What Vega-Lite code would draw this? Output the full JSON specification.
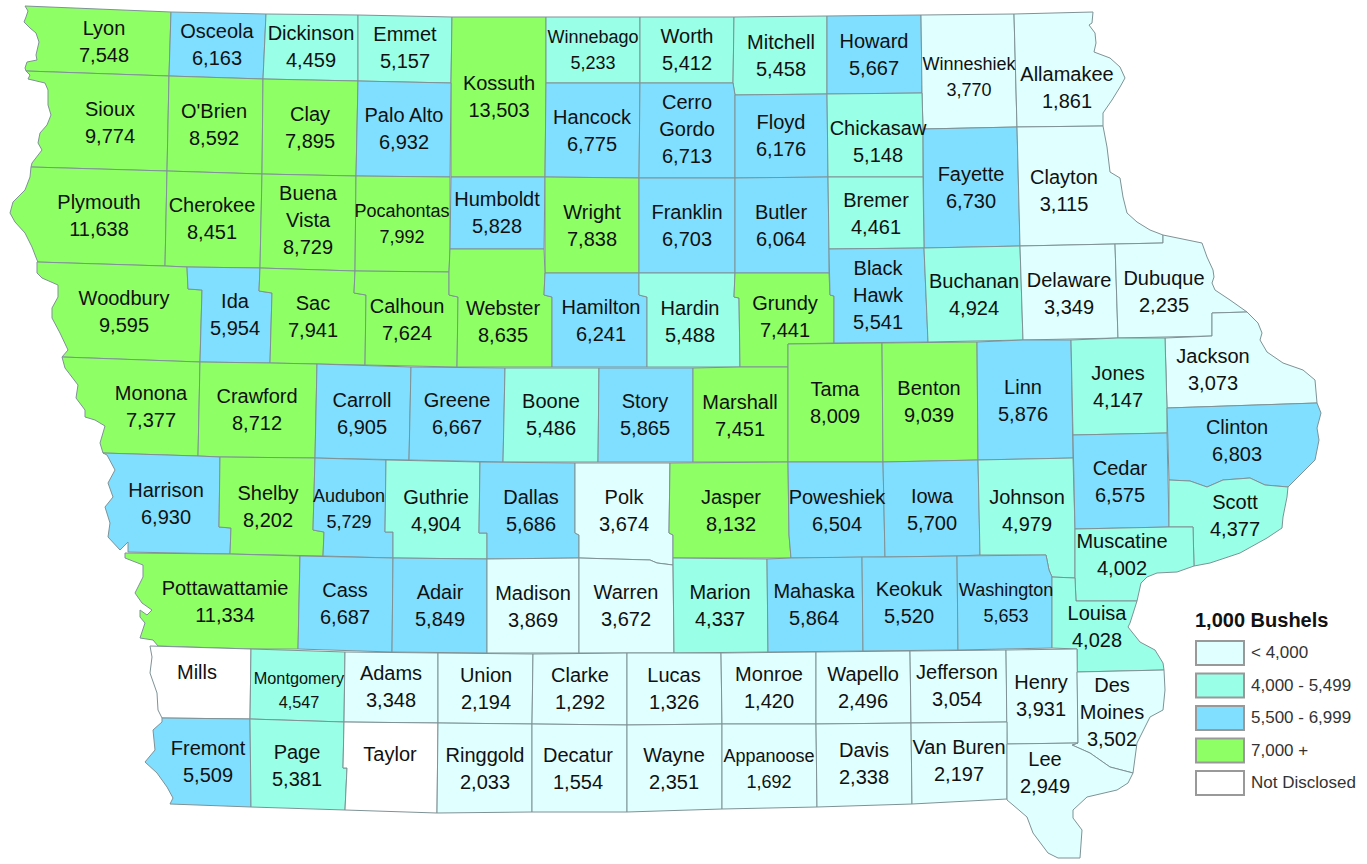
{"$schema":"https://vega.github.io/schema/vega-lite/v6.json","width":1367,"height":864,"autosize":"none","padding":0,"background":"white","config":{"view":{"stroke":null}},"projection":{"type":"identity","scale":1,"translate":[0,0]},
"data":{"values":[
{"type":"Feature","name":"Lyon","value":7548,"class":"7,000 +","lx":104,"ly":42,"geometry":{"type":"Polygon","coordinates":[[[25,6],[171,12],[169,76],[26,71],[25,68],[27,62],[37,60],[36,55],[39,42],[36,33],[30,28],[24,22],[26,17],[28,11],[25,6]]]}},
{"type":"Feature","name":"Osceola","value":6163,"class":"5,500 - 6,999","lx":217,"ly":45,"geometry":{"type":"Polygon","coordinates":[[[171,12],[266,14],[263,79],[169,76],[171,12]]]}},
{"type":"Feature","name":"Dickinson","value":4459,"class":"4,000 - 5,499","lx":311,"ly":47,"geometry":{"type":"Polygon","coordinates":[[[266,14],[358,15],[358,81],[263,79],[266,14]]]}},
{"type":"Feature","name":"Emmet","value":5157,"class":"4,000 - 5,499","lx":405,"ly":48,"geometry":{"type":"Polygon","coordinates":[[[358,15],[452,17],[451,83],[358,81],[358,15]]]}},
{"type":"Feature","name":"Kossuth","value":13503,"class":"7,000 +","lx":499,"ly":97,"geometry":{"type":"Polygon","coordinates":[[[452,17],[546,17],[546,83],[545,177],[451,177],[451,83],[452,17]]]}},
{"type":"Feature","name":"Winnebago","value":5233,"class":"4,000 - 5,499","lx":593,"ly":51,"geometry":{"type":"Polygon","coordinates":[[[546,17],[640,17],[640,83],[546,83],[546,17]]]}},
{"type":"Feature","name":"Worth","value":5412,"class":"4,000 - 5,499","lx":687,"ly":50,"geometry":{"type":"Polygon","coordinates":[[[640,17],[734,17],[733,83],[640,83],[640,17]]]}},
{"type":"Feature","name":"Mitchell","value":5458,"class":"4,000 - 5,499","lx":781,"ly":56,"geometry":{"type":"Polygon","coordinates":[[[734,17],[827,16],[827,94],[735,95],[733,83],[734,17]]]}},
{"type":"Feature","name":"Howard","value":5667,"class":"5,500 - 6,999","lx":874,"ly":55,"geometry":{"type":"Polygon","coordinates":[[[827,16],[921,15],[922,93],[827,94],[827,16]]]}},
{"type":"Feature","name":"Winneshiek","value":3770,"class":"< 4,000","lx":969,"ly":78,"geometry":{"type":"Polygon","coordinates":[[[921,15],[1014,14],[1017,127],[923,129],[922,93],[921,15]]]}},
{"type":"Feature","name":"Allamakee","value":1861,"class":"< 4,000","lx":1067,"ly":88,"geometry":{"type":"Polygon","coordinates":[[[1014,14],[1093,12],[1092,23],[1089,25],[1095,33],[1096,43],[1094,52],[1110,58],[1120,67],[1125,78],[1120,87],[1112,100],[1103,113],[1103,126],[1017,127],[1014,14]]]}},
{"type":"Feature","name":"Sioux","value":9774,"class":"7,000 +","lx":110,"ly":123,"geometry":{"type":"Polygon","coordinates":[[[26,71],[169,76],[167,171],[31,167],[32,163],[42,150],[38,143],[40,133],[47,125],[51,115],[48,105],[48,90],[45,83],[28,79],[30,75],[26,71]]]}},
{"type":"Feature","name":"O'Brien","value":8592,"class":"7,000 +","lx":214,"ly":125,"geometry":{"type":"Polygon","coordinates":[[[169,76],[263,79],[262,174],[167,171],[169,76]]]}},
{"type":"Feature","name":"Clay","value":7895,"class":"7,000 +","lx":310,"ly":128,"geometry":{"type":"Polygon","coordinates":[[[263,79],[358,81],[356,176],[262,174],[263,79]]]}},
{"type":"Feature","name":"Palo Alto","value":6932,"class":"5,500 - 6,999","lx":404,"ly":129,"geometry":{"type":"Polygon","coordinates":[[[358,81],[451,83],[450,177],[356,176],[358,81]]]}},
{"type":"Feature","name":"Hancock","value":6775,"class":"5,500 - 6,999","lx":592,"ly":131,"geometry":{"type":"Polygon","coordinates":[[[546,83],[640,83],[639,178],[545,177],[546,83]]]}},
{"type":"Feature","name":"Cerro\nGordo","value":6713,"class":"5,500 - 6,999","lx":687,"ly":116,"geometry":{"type":"Polygon","coordinates":[[[640,83],[733,83],[735,95],[735,178],[639,178],[640,83]]]}},
{"type":"Feature","name":"Floyd","value":6176,"class":"5,500 - 6,999","lx":781,"ly":136,"geometry":{"type":"Polygon","coordinates":[[[735,95],[827,94],[828,177],[735,178],[735,95]]]}},
{"type":"Feature","name":"Chickasaw","value":5148,"class":"4,000 - 5,499","lx":878,"ly":142,"geometry":{"type":"Polygon","coordinates":[[[827,94],[922,93],[923,129],[923,177],[828,177],[827,94]]]}},
{"type":"Feature","name":"Fayette","value":6730,"class":"5,500 - 6,999","lx":971,"ly":188,"geometry":{"type":"Polygon","coordinates":[[[923,129],[1017,127],[1020,246],[924,248],[923,129]]]}},
{"type":"Feature","name":"Clayton","value":3115,"class":"< 4,000","lx":1064,"ly":191,"geometry":{"type":"Polygon","coordinates":[[[1017,127],[1103,126],[1107,147],[1110,172],[1120,178],[1123,197],[1127,213],[1137,222],[1150,230],[1163,235],[1163,243],[1115,244],[1020,246],[1017,127]]]}},
{"type":"Feature","name":"Plymouth","value":11638,"class":"7,000 +","lx":99,"ly":216,"geometry":{"type":"Polygon","coordinates":[[[31,167],[167,171],[165,266],[37,262],[38,262],[37,260],[32,247],[25,233],[15,222],[10,213],[13,202],[25,190],[30,177],[31,167]]]}},
{"type":"Feature","name":"Cherokee","value":8451,"class":"7,000 +","lx":212,"ly":219,"geometry":{"type":"Polygon","coordinates":[[[167,171],[262,174],[260,268],[187,267],[165,266],[167,171]]]}},
{"type":"Feature","name":"Buena\nVista","value":8729,"class":"7,000 +","lx":308,"ly":207,"geometry":{"type":"Polygon","coordinates":[[[262,174],[356,176],[355,271],[260,268],[262,174]]]}},
{"type":"Feature","name":"Pocahontas","value":7992,"class":"7,000 +","lx":402,"ly":225,"geometry":{"type":"Polygon","coordinates":[[[356,176],[450,177],[450,248],[449,272],[355,271],[356,176]]]}},
{"type":"Feature","name":"Humboldt","value":5828,"class":"5,500 - 6,999","lx":497,"ly":213,"geometry":{"type":"Polygon","coordinates":[[[451,177],[545,177],[544,249],[450,249],[451,177]]]}},
{"type":"Feature","name":"Wright","value":7838,"class":"7,000 +","lx":592,"ly":226,"geometry":{"type":"Polygon","coordinates":[[[545,177],[639,178],[639,273],[545,273],[545,177]]]}},
{"type":"Feature","name":"Franklin","value":6703,"class":"5,500 - 6,999","lx":687,"ly":226,"geometry":{"type":"Polygon","coordinates":[[[639,178],[735,178],[735,273],[639,273],[639,178]]]}},
{"type":"Feature","name":"Butler","value":6064,"class":"5,500 - 6,999","lx":781,"ly":226,"geometry":{"type":"Polygon","coordinates":[[[735,178],[828,177],[829,249],[829,273],[735,273],[735,178]]]}},
{"type":"Feature","name":"Bremer","value":4461,"class":"4,000 - 5,499","lx":876,"ly":214,"geometry":{"type":"Polygon","coordinates":[[[828,177],[923,177],[924,248],[829,249],[828,177]]]}},
{"type":"Feature","name":"Woodbury","value":9595,"class":"7,000 +","lx":124,"ly":312,"geometry":{"type":"Polygon","coordinates":[[[37,262],[165,266],[187,267],[188,289],[202,290],[200,362],[62,357],[68,350],[60,333],[52,318],[52,308],[58,297],[58,285],[42,278],[37,273],[37,262]]]}},
{"type":"Feature","name":"Ida","value":5954,"class":"5,500 - 6,999","lx":235,"ly":315,"geometry":{"type":"Polygon","coordinates":[[[187,267],[260,268],[259,291],[272,293],[270,363],[200,362],[202,290],[188,289],[187,267]]]}},
{"type":"Feature","name":"Sac","value":7941,"class":"7,000 +","lx":313,"ly":317,"geometry":{"type":"Polygon","coordinates":[[[260,268],[355,271],[354,293],[366,295],[365,365],[317,364],[270,363],[272,293],[259,291],[260,268]]]}},
{"type":"Feature","name":"Calhoun","value":7624,"class":"7,000 +","lx":407,"ly":320,"geometry":{"type":"Polygon","coordinates":[[[355,271],[449,272],[449,295],[458,297],[457,367],[365,365],[366,295],[354,293],[355,271]]]}},
{"type":"Feature","name":"Webster","value":8635,"class":"7,000 +","lx":503,"ly":322,"geometry":{"type":"Polygon","coordinates":[[[450,249],[544,249],[545,273],[544,295],[552,297],[552,367],[457,367],[458,297],[449,295],[449,272],[450,249]]]}},
{"type":"Feature","name":"Hamilton","value":6241,"class":"5,500 - 6,999","lx":601,"ly":321,"geometry":{"type":"Polygon","coordinates":[[[545,273],[639,273],[639,295],[647,297],[647,367],[552,367],[552,297],[544,295],[545,273]]]}},
{"type":"Feature","name":"Hardin","value":5488,"class":"4,000 - 5,499","lx":690,"ly":322,"geometry":{"type":"Polygon","coordinates":[[[639,273],[735,273],[734,297],[739,298],[740,367],[647,367],[647,297],[639,295],[639,273]]]}},
{"type":"Feature","name":"Grundy","value":7441,"class":"7,000 +","lx":785,"ly":317,"geometry":{"type":"Polygon","coordinates":[[[735,273],[829,273],[830,295],[834,296],[834,343],[788,344],[788,367],[740,367],[739,298],[734,297],[735,273]]]}},
{"type":"Feature","name":"Black\nHawk","value":5541,"class":"5,500 - 6,999","lx":878,"ly":282,"geometry":{"type":"Polygon","coordinates":[[[829,249],[924,248],[928,342],[834,343],[834,296],[830,295],[829,249]]]}},
{"type":"Feature","name":"Buchanan","value":4924,"class":"4,000 - 5,499","lx":974,"ly":295,"geometry":{"type":"Polygon","coordinates":[[[924,248],[1020,246],[1023,340],[928,342],[924,248]]]}},
{"type":"Feature","name":"Delaware","value":3349,"class":"< 4,000","lx":1069,"ly":294,"geometry":{"type":"Polygon","coordinates":[[[1020,246],[1115,244],[1118,338],[1023,340],[1020,246]]]}},
{"type":"Feature","name":"Dubuque","value":2235,"class":"< 4,000","lx":1164,"ly":292,"geometry":{"type":"Polygon","coordinates":[[[1115,244],[1163,243],[1163,235],[1202,243],[1207,257],[1213,270],[1214,277],[1212,283],[1215,290],[1230,300],[1247,312],[1212,313],[1212,336],[1118,338],[1115,244]]]}},
{"type":"Feature","name":"Jackson","value":3073,"class":"< 4,000","lx":1213,"ly":370,"geometry":{"type":"Polygon","coordinates":[[[1212,313],[1247,312],[1258,323],[1262,333],[1260,340],[1267,352],[1283,363],[1303,370],[1315,380],[1317,403],[1167,408],[1165,338],[1212,336],[1212,313]]]}},
{"type":"Feature","name":"Monona","value":7377,"class":"7,000 +","lx":151,"ly":407,"geometry":{"type":"Polygon","coordinates":[[[62,357],[200,362],[198,456],[103,453],[100,443],[105,426],[95,420],[85,417],[85,410],[76,398],[78,385],[65,368],[62,357]]]}},
{"type":"Feature","name":"Crawford","value":8712,"class":"7,000 +","lx":257,"ly":410,"geometry":{"type":"Polygon","coordinates":[[[200,362],[270,363],[317,364],[315,458],[220,457],[198,456],[200,362]]]}},
{"type":"Feature","name":"Carroll","value":6905,"class":"5,500 - 6,999","lx":362,"ly":414,"geometry":{"type":"Polygon","coordinates":[[[317,364],[411,367],[409,460],[315,458],[317,364]]]}},
{"type":"Feature","name":"Greene","value":6667,"class":"5,500 - 6,999","lx":457,"ly":414,"geometry":{"type":"Polygon","coordinates":[[[411,367],[505,368],[503,462],[409,460],[411,367]]]}},
{"type":"Feature","name":"Boone","value":5486,"class":"4,000 - 5,499","lx":551,"ly":415,"geometry":{"type":"Polygon","coordinates":[[[505,368],[599,368],[598,462],[503,462],[505,368]]]}},
{"type":"Feature","name":"Story","value":5865,"class":"5,500 - 6,999","lx":645,"ly":415,"geometry":{"type":"Polygon","coordinates":[[[599,368],[693,368],[693,462],[598,462],[599,368]]]}},
{"type":"Feature","name":"Marshall","value":7451,"class":"7,000 +","lx":740,"ly":416,"geometry":{"type":"Polygon","coordinates":[[[693,368],[740,367],[788,367],[788,462],[693,462],[693,368]]]}},
{"type":"Feature","name":"Tama","value":8009,"class":"7,000 +","lx":835,"ly":403,"geometry":{"type":"Polygon","coordinates":[[[788,344],[882,343],[883,462],[788,462],[788,344]]]}},
{"type":"Feature","name":"Benton","value":9039,"class":"7,000 +","lx":929,"ly":402,"geometry":{"type":"Polygon","coordinates":[[[882,343],[977,342],[978,460],[883,462],[882,343]]]}},
{"type":"Feature","name":"Linn","value":5876,"class":"5,500 - 6,999","lx":1023,"ly":401,"geometry":{"type":"Polygon","coordinates":[[[977,342],[1023,340],[1071,340],[1073,458],[978,460],[977,342]]]}},
{"type":"Feature","name":"Jones","value":4147,"class":"4,000 - 5,499","lx":1118,"ly":387,"geometry":{"type":"Polygon","coordinates":[[[1071,340],[1118,338],[1165,338],[1167,408],[1167,433],[1073,435],[1071,340]]]}},
{"type":"Feature","name":"Clinton","value":6803,"class":"5,500 - 6,999","lx":1237,"ly":441,"geometry":{"type":"Polygon","coordinates":[[[1167,408],[1317,403],[1321,413],[1317,428],[1319,440],[1315,460],[1288,487],[1265,485],[1250,478],[1223,480],[1207,487],[1190,481],[1169,480],[1167,408]]]}},
{"type":"Feature","name":"Harrison","value":6930,"class":"5,500 - 6,999","lx":166,"ly":504,"geometry":{"type":"Polygon","coordinates":[[[103,453],[198,456],[220,457],[219,527],[231,528],[230,554],[128,552],[128,542],[120,550],[108,537],[110,523],[105,507],[113,497],[108,483],[115,470],[107,455],[103,453]]]}},
{"type":"Feature","name":"Shelby","value":8202,"class":"7,000 +","lx":268,"ly":507,"geometry":{"type":"Polygon","coordinates":[[[220,457],[315,458],[313,530],[324,532],[323,556],[230,554],[231,528],[219,527],[220,457]]]}},
{"type":"Feature","name":"Audubon","value":5729,"class":"5,500 - 6,999","lx":349,"ly":510,"geometry":{"type":"Polygon","coordinates":[[[315,458],[386,460],[385,532],[393,532],[393,558],[323,556],[324,532],[313,530],[315,458]]]}},
{"type":"Feature","name":"Guthrie","value":4904,"class":"4,000 - 5,499","lx":436,"ly":511,"geometry":{"type":"Polygon","coordinates":[[[386,460],[480,462],[479,533],[487,533],[487,559],[393,558],[393,532],[385,532],[386,460]]]}},
{"type":"Feature","name":"Dallas","value":5686,"class":"5,500 - 6,999","lx":531,"ly":511,"geometry":{"type":"Polygon","coordinates":[[[480,462],[575,463],[575,533],[579,535],[579,558],[487,559],[487,533],[479,533],[480,462]]]}},
{"type":"Feature","name":"Polk","value":3674,"class":"< 4,000","lx":624,"ly":511,"geometry":{"type":"Polygon","coordinates":[[[575,463],[670,463],[669,533],[673,535],[673,565],[657,563],[650,560],[579,558],[579,535],[575,533],[575,463]]]}},
{"type":"Feature","name":"Jasper","value":8132,"class":"7,000 +","lx":731,"ly":511,"geometry":{"type":"Polygon","coordinates":[[[670,463],[788,462],[789,535],[791,558],[673,558],[673,535],[669,533],[670,463]]]}},
{"type":"Feature","name":"Poweshiek","value":6504,"class":"5,500 - 6,999","lx":837,"ly":511,"geometry":{"type":"Polygon","coordinates":[[[788,462],[883,462],[885,557],[791,558],[789,535],[788,462]]]}},
{"type":"Feature","name":"Iowa","value":5700,"class":"5,500 - 6,999","lx":932,"ly":510,"geometry":{"type":"Polygon","coordinates":[[[883,462],[978,460],[980,555],[957,556],[885,557],[883,462]]]}},
{"type":"Feature","name":"Johnson","value":4979,"class":"4,000 - 5,499","lx":1027,"ly":511,"geometry":{"type":"Polygon","coordinates":[[[978,460],[1073,458],[1075,529],[1075,578],[1052,577],[1049,570],[1046,555],[980,555],[978,460]]]}},
{"type":"Feature","name":"Cedar","value":6575,"class":"5,500 - 6,999","lx":1120,"ly":482,"geometry":{"type":"Polygon","coordinates":[[[1073,435],[1167,433],[1169,527],[1075,529],[1073,435]]]}},
{"type":"Feature","name":"Scott","value":4377,"class":"4,000 - 5,499","lx":1235,"ly":516,"geometry":{"type":"Polygon","coordinates":[[[1169,480],[1190,481],[1207,487],[1223,480],[1250,478],[1265,485],[1288,487],[1287,497],[1283,517],[1282,528],[1267,538],[1240,553],[1210,563],[1194,566],[1193,527],[1169,527],[1169,480]]]}},
{"type":"Feature","name":"Muscatine","value":4002,"class":"4,000 - 5,499","lx":1122,"ly":555,"geometry":{"type":"Polygon","coordinates":[[[1075,529],[1169,527],[1193,527],[1194,566],[1177,572],[1157,573],[1147,577],[1141,583],[1137,601],[1076,601],[1075,578],[1075,529]]]}},
{"type":"Feature","name":"Pottawattamie","value":11334,"class":"7,000 +","lx":225,"ly":602,"geometry":{"type":"Polygon","coordinates":[[[125,553],[230,554],[300,556],[298,649],[251,649],[158,646],[153,640],[140,638],[145,623],[140,617],[140,610],[147,615],[152,610],[142,603],[135,593],[143,577],[143,565],[125,558],[125,553]]]}},
{"type":"Feature","name":"Cass","value":6687,"class":"5,500 - 6,999","lx":345,"ly":604,"geometry":{"type":"Polygon","coordinates":[[[300,556],[393,558],[392,652],[298,649],[300,556]]]}},
{"type":"Feature","name":"Adair","value":5849,"class":"5,500 - 6,999","lx":440,"ly":606,"geometry":{"type":"Polygon","coordinates":[[[393,558],[487,559],[487,653],[392,652],[393,558]]]}},
{"type":"Feature","name":"Madison","value":3869,"class":"< 4,000","lx":533,"ly":607,"geometry":{"type":"Polygon","coordinates":[[[487,559],[579,558],[579,653],[487,653],[487,559]]]}},
{"type":"Feature","name":"Warren","value":3672,"class":"< 4,000","lx":626,"ly":606,"geometry":{"type":"Polygon","coordinates":[[[579,558],[650,560],[657,563],[673,565],[674,653],[579,653],[579,558]]]}},
{"type":"Feature","name":"Marion","value":4337,"class":"4,000 - 5,499","lx":720,"ly":606,"geometry":{"type":"Polygon","coordinates":[[[673,558],[767,559],[768,652],[674,653],[673,558]]]}},
{"type":"Feature","name":"Mahaska","value":5864,"class":"5,500 - 6,999","lx":814,"ly":605,"geometry":{"type":"Polygon","coordinates":[[[767,559],[791,558],[862,557],[863,651],[768,652],[767,559]]]}},
{"type":"Feature","name":"Keokuk","value":5520,"class":"5,500 - 6,999","lx":909,"ly":603,"geometry":{"type":"Polygon","coordinates":[[[862,557],[885,557],[957,556],[958,650],[863,651],[862,557]]]}},
{"type":"Feature","name":"Washington","value":5653,"class":"5,500 - 6,999","lx":1006,"ly":604,"geometry":{"type":"Polygon","coordinates":[[[957,556],[1046,555],[1049,570],[1052,577],[1052,648],[958,650],[957,556]]]}},
{"type":"Feature","name":"Louisa","value":4028,"class":"4,000 - 5,499","lx":1097,"ly":627,"geometry":{"type":"Polygon","coordinates":[[[1052,577],[1075,578],[1076,601],[1137,601],[1130,623],[1128,627],[1140,642],[1155,650],[1163,663],[1164,670],[1077,672],[1077,649],[1052,648],[1052,577]]]}},
{"type":"Feature","name":"Mills","value":null,"class":"Not Disclosed","lx":197,"ly":686,"geometry":{"type":"Polygon","coordinates":[[[150,646],[251,649],[250,719],[162,718],[158,710],[157,693],[150,673],[152,657],[150,646]]]}},
{"type":"Feature","name":"Montgomery","value":4547,"class":"4,000 - 5,499","lx":299,"ly":691,"geometry":{"type":"Polygon","coordinates":[[[251,649],[345,652],[344,722],[250,719],[251,649]]]}},
{"type":"Feature","name":"Adams","value":3348,"class":"< 4,000","lx":391,"ly":687,"geometry":{"type":"Polygon","coordinates":[[[345,652],[438,653],[438,723],[344,722],[345,652]]]}},
{"type":"Feature","name":"Union","value":2194,"class":"< 4,000","lx":486,"ly":689,"geometry":{"type":"Polygon","coordinates":[[[438,653],[533,654],[532,724],[438,723],[438,653]]]}},
{"type":"Feature","name":"Clarke","value":1292,"class":"< 4,000","lx":580,"ly":689,"geometry":{"type":"Polygon","coordinates":[[[533,654],[627,653],[627,725],[532,724],[533,654]]]}},
{"type":"Feature","name":"Lucas","value":1326,"class":"< 4,000","lx":674,"ly":689,"geometry":{"type":"Polygon","coordinates":[[[627,653],[721,653],[722,724],[627,725],[627,653]]]}},
{"type":"Feature","name":"Monroe","value":1420,"class":"< 4,000","lx":769,"ly":688,"geometry":{"type":"Polygon","coordinates":[[[721,653],[816,652],[816,724],[722,724],[721,653]]]}},
{"type":"Feature","name":"Wapello","value":2496,"class":"< 4,000","lx":863,"ly":688,"geometry":{"type":"Polygon","coordinates":[[[816,652],[910,651],[911,723],[816,724],[816,652]]]}},
{"type":"Feature","name":"Jefferson","value":3054,"class":"< 4,000","lx":957,"ly":686,"geometry":{"type":"Polygon","coordinates":[[[910,651],[1006,650],[1007,722],[911,723],[910,651]]]}},
{"type":"Feature","name":"Henry","value":3931,"class":"< 4,000","lx":1041,"ly":696,"geometry":{"type":"Polygon","coordinates":[[[1006,650],[1077,649],[1078,743],[1007,744],[1006,650]]]}},
{"type":"Feature","name":"Des\nMoines","value":3502,"class":"< 4,000","lx":1112,"ly":699,"geometry":{"type":"Polygon","coordinates":[[[1077,672],[1164,670],[1165,690],[1163,710],[1150,717],[1137,743],[1133,773],[1110,767],[1090,753],[1072,745],[1078,743],[1077,672]]]}},
{"type":"Feature","name":"Fremont","value":5509,"class":"5,500 - 6,999","lx":208,"ly":762,"geometry":{"type":"Polygon","coordinates":[[[162,718],[250,719],[251,807],[170,804],[173,798],[167,787],[157,773],[145,762],[155,750],[153,730],[162,722],[162,718]]]}},
{"type":"Feature","name":"Page","value":5381,"class":"4,000 - 5,499","lx":297,"ly":766,"geometry":{"type":"Polygon","coordinates":[[[250,719],[344,722],[343,768],[347,768],[345,810],[251,807],[250,719]]]}},
{"type":"Feature","name":"Taylor","value":null,"class":"Not Disclosed","lx":390,"ly":768,"geometry":{"type":"Polygon","coordinates":[[[344,722],[438,723],[437,813],[345,810],[347,768],[343,768],[344,722]]]}},
{"type":"Feature","name":"Ringgold","value":2033,"class":"< 4,000","lx":485,"ly":769,"geometry":{"type":"Polygon","coordinates":[[[438,723],[532,724],[532,812],[437,813],[438,723]]]}},
{"type":"Feature","name":"Decatur","value":1554,"class":"< 4,000","lx":578,"ly":769,"geometry":{"type":"Polygon","coordinates":[[[532,724],[627,725],[627,812],[532,812],[532,724]]]}},
{"type":"Feature","name":"Wayne","value":2351,"class":"< 4,000","lx":674,"ly":769,"geometry":{"type":"Polygon","coordinates":[[[627,725],[722,724],[722,809],[627,812],[627,725]]]}},
{"type":"Feature","name":"Appanoose","value":1692,"class":"< 4,000","lx":769,"ly":770,"geometry":{"type":"Polygon","coordinates":[[[722,724],[816,724],[817,807],[722,809],[722,724]]]}},
{"type":"Feature","name":"Davis","value":2338,"class":"< 4,000","lx":864,"ly":764,"geometry":{"type":"Polygon","coordinates":[[[816,724],[911,723],[912,804],[817,807],[816,724]]]}},
{"type":"Feature","name":"Van Buren","value":2197,"class":"< 4,000","lx":959,"ly":761,"geometry":{"type":"Polygon","coordinates":[[[911,723],[1007,722],[1007,799],[912,804],[911,723]]]}},
{"type":"Feature","name":"Lee","value":2949,"class":"< 4,000","lx":1045,"ly":773,"geometry":{"type":"Polygon","coordinates":[[[1007,744],[1078,743],[1072,745],[1090,753],[1110,767],[1133,773],[1128,783],[1117,790],[1087,797],[1073,810],[1073,818],[1082,830],[1080,858],[1058,858],[1048,853],[1033,833],[1027,817],[1013,805],[1007,800],[1007,744]]]}}
]},
"transform":[{"calculate":"datum.value ? datum.name + '\\n' + format(datum.value, ',') : datum.name","as":"label"}],
"layer":[
{"mark":{"type":"geoshape","stroke":"#7f9296","strokeWidth":1},
"encoding":{"color":{"field":"class","type":"nominal","scale":{"domain":["< 4,000","4,000 - 5,499","5,500 - 6,999","7,000 +","Not Disclosed"],"range":["#E0FFFF","#99FFE6","#80DFFF","#8FFF66","#FFFFFF"]},
"legend":{"title":"1,000 Bushels","orient":"none","legendX":1195,"legendY":611,"titleFont":"Liberation Sans","titleFontSize":20,"titleFontWeight":"bold","titleColor":"#111","titlePadding":9,"labelFont":"Liberation Sans","labelFontSize":17,"labelColor":"#333","labelOffset":30,"symbolType":"M-1,-1H3V1H-1Z","symbolSize":576,"symbolStrokeColor":"#999","symbolStrokeWidth":2,"symbolOpacity":1,"rowPadding":0.5,"labelLimit":200}}}},
{"transform":[{"filter":{"not":{"field":"name","oneOf":["Winnebago","Winneshiek","Pocahontas","Audubon","Washington","Appanoose","Montgomery"]}}}],
"mark":{"type":"text","font":"Liberation Sans","fontSize":20,"lineBreak":"\n","lineHeight":27,"dy":-13,"color":"#111","align":"center","baseline":"middle"},
"encoding":{"longitude":{"field":"lx","type":"quantitative"},"latitude":{"field":"ly","type":"quantitative"},"text":{"field":"label","type":"nominal"}}},
{"transform":[{"filter":{"field":"name","oneOf":["Winnebago","Winneshiek","Pocahontas","Audubon","Washington","Appanoose"]}}],
"mark":{"type":"text","font":"Liberation Sans","fontSize":18,"lineBreak":"\n","lineHeight":26,"dy":-13,"color":"#111","align":"center","baseline":"middle"},
"encoding":{"longitude":{"field":"lx","type":"quantitative"},"latitude":{"field":"ly","type":"quantitative"},"text":{"field":"label","type":"nominal"}}},
{"transform":[{"filter":{"field":"name","oneOf":["Montgomery"]}}],
"mark":{"type":"text","font":"Liberation Sans","fontSize":16.3,"lineBreak":"\n","lineHeight":24,"dy":-12,"color":"#111","align":"center","baseline":"middle"},
"encoding":{"longitude":{"field":"lx","type":"quantitative"},"latitude":{"field":"ly","type":"quantitative"},"text":{"field":"label","type":"nominal"}}}
]}
